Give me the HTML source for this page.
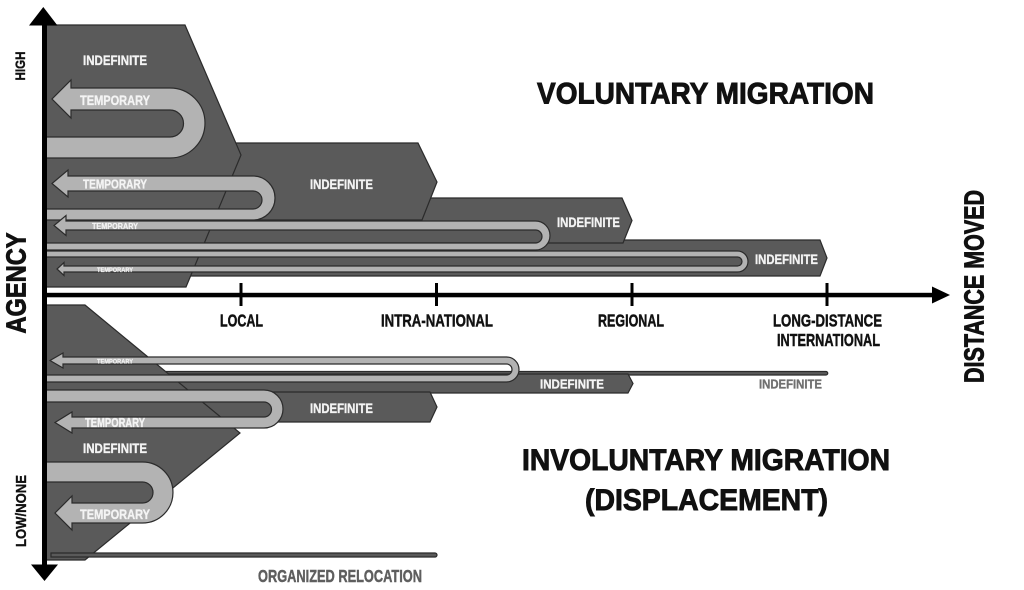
<!DOCTYPE html>
<html>
<head>
<meta charset="utf-8">
<style>
  html, body { margin:0; padding:0; background:#fff; }
  svg { display:block; }
  text { font-family: "Liberation Sans Narrow", "Liberation Sans", sans-serif; font-weight:bold; }
</style>
</head>
<body>
<svg width="1024" height="590" viewBox="0 0 1024 590" xmlns="http://www.w3.org/2000/svg">
  <rect x="0" y="0" width="1024" height="590" fill="#ffffff"/>

  <!-- ===== Upper (voluntary) bands ===== -->
  <g fill="#5a5a5a" stroke="#2b2b2b" stroke-width="1.2" stroke-linejoin="miter">
    <polygon points="100,240 820,240 827,258 820,276 100,276"/>
    <polygon points="100,198 622,198 632,220.5 623,243 100,243"/>
    <polygon points="100,143 418,143 437,182 422,220 100,220"/>
    <polygon points="46,25 185,25 241,155 186,287 46,287"/>
  </g>

  <!-- Upper arrows -->
  <g fill="#b3b3b3" stroke="#2b2b2b" stroke-width="1.2" stroke-linejoin="miter">
    <path d="M46,137 L170,137 A13.5 13.5 0 0 0 170,110 L71,110 L71,118 L52,99 L71,80 L71,88 L170,88 A35 35 0 0 1 170,158 L46,158 Z"/>
    <path d="M46,209 L253,209 A9 9 0 0 0 253,191 L68,191 L68,197 L52,183.5 L68,170 L68,176 L253,176 A22 22 0 0 1 253,220 L46,220 Z"/>
    <path d="M46,243 L535.5,243 A6.5 6.5 0 0 0 535.5,230 L66,230 L66,235.5 L54,225.5 L66,215.5 L66,221 L535.5,221 A14.5 14.5 0 0 1 535.5,250 L46,250 Z"/>
    <path d="M46,251 L737.5,251 A10.5 10.5 0 0 1 737.5,272 L64,272 L64,275.5 L57,269 L64,262.5 L64,266 L737.5,266 A4.5 4.5 0 0 0 737.5,257 L46,257 Z"/>
  </g>

  <!-- ===== Lower (involuntary) bands ===== -->
  <g fill="#5a5a5a" stroke="#2b2b2b" stroke-width="1.2" stroke-linejoin="miter">
    <path d="M100,371.5 L826,371.5 A1.75 1.75 0 0 1 826,375 L100,375 Z"/>
    <polygon points="100,374 628,374 633,383.5 628,393 100,393"/>
    <polygon points="100,392 430,392 437,407 430,422 100,422"/>
    <polygon points="46,305 85,305 240,433 85,560 46,560"/>
    <path d="M51,553 L435,553 A2 2 0 0 1 435,557 L51,557 Z"/>
  </g>

  <!-- Lower arrows -->
  <g fill="#b3b3b3" stroke="#2b2b2b" stroke-width="1.2" stroke-linejoin="miter">
    <path d="M46,375 L506.5,375 A5.5 5.5 0 0 0 506.5,364 L63,364 L63,368 L50,360.5 L63,353 L63,357 L506.5,357 A12.5 12.5 0 0 1 506.5,382 L46,382 Z"/>
    <path d="M46,390 L264,390 A19 19 0 0 1 264,428 L72,428 L72,433 L55,422.5 L72,412 L72,417 L264,417 A7.5 7.5 0 0 0 264,402 L46,402 Z"/>
    <path d="M46,462 L142.5,462 A30.5 30.5 0 0 1 142.5,523 L72,523 L72,530 L55,513 L72,496 L72,503 L142.5,503 A10.5 10.5 0 0 0 142.5,482 L46,482 Z"/>
  </g>

  <!-- ===== Axes ===== -->
  <g fill="#000">
    <rect x="42" y="20" width="5" height="550"/>
    <rect x="42" y="292.8" width="892" height="4.5"/>
    <polygon points="29,25.5 57.5,25.5 43.3,7"/>
    <polygon points="31,564.5 58,564.5 44.5,581"/>
    <polygon points="932,286.5 932,303.5 950,295"/>
    <rect x="239.5" y="283" width="3" height="23"/>
    <rect x="435" y="283" width="3" height="23"/>
    <rect x="630.5" y="283" width="3" height="23"/>
    <rect x="825.5" y="283" width="3" height="23"/>
  </g>

  <!-- ===== Band labels ===== -->
  <g fill="#f4f4f4" stroke="#f4f4f4" stroke-width="0.35">
    <text x="83" y="65" font-size="14" textLength="64" lengthAdjust="spacingAndGlyphs">INDEFINITE</text>
    <text x="310" y="189" font-size="14" textLength="63" lengthAdjust="spacingAndGlyphs">INDEFINITE</text>
    <text x="557" y="227" font-size="14" textLength="63" lengthAdjust="spacingAndGlyphs">INDEFINITE</text>
    <text x="755" y="264" font-size="14" textLength="63" lengthAdjust="spacingAndGlyphs">INDEFINITE</text>
    <text x="83" y="453" font-size="14" textLength="64" lengthAdjust="spacingAndGlyphs">INDEFINITE</text>
    <text x="310" y="413" font-size="14" textLength="63" lengthAdjust="spacingAndGlyphs">INDEFINITE</text>
    <text x="540" y="388.5" font-size="13" textLength="64" lengthAdjust="spacingAndGlyphs">INDEFINITE</text>

    <text x="80" y="105" font-size="14" textLength="70" lengthAdjust="spacingAndGlyphs">TEMPORARY</text>
    <text x="83" y="188.5" font-size="13" textLength="64" lengthAdjust="spacingAndGlyphs">TEMPORARY</text>
    <text x="92" y="229" font-size="8" textLength="46" lengthAdjust="spacingAndGlyphs" stroke-width="0.2">TEMPORARY</text>
    <text x="97" y="272" font-size="6" textLength="36" lengthAdjust="spacingAndGlyphs" stroke-width="0.15">TEMPORARY</text>
    <text x="97" y="363.5" font-size="6" textLength="36" lengthAdjust="spacingAndGlyphs" stroke-width="0.15">TEMPORARY</text>
    <text x="85" y="427" font-size="12.5" textLength="60" lengthAdjust="spacingAndGlyphs">TEMPORARY</text>
    <text x="80" y="519" font-size="14" textLength="70" lengthAdjust="spacingAndGlyphs">TEMPORARY</text>
  </g>
  <text x="759" y="388.5" font-size="13" fill="#707070" stroke="#707070" stroke-width="0.35" textLength="63" lengthAdjust="spacingAndGlyphs">INDEFINITE</text>
  <text x="258" y="582" font-size="17.5" fill="#5e5e5e" stroke="#5e5e5e" stroke-width="0.45" textLength="164" lengthAdjust="spacingAndGlyphs">ORGANIZED RELOCATION</text>

  <!-- ===== Axis labels ===== -->
  <g fill="#111" stroke="#111" stroke-width="0.45">
    <text x="220" y="326.5" font-size="17.5" textLength="43" lengthAdjust="spacingAndGlyphs">LOCAL</text>
    <text x="381" y="326.5" font-size="17.5" textLength="112" lengthAdjust="spacingAndGlyphs">INTRA-NATIONAL</text>
    <text x="598" y="326.5" font-size="17.5" textLength="66" lengthAdjust="spacingAndGlyphs">REGIONAL</text>
    <text x="773" y="326.5" font-size="17.5" textLength="109" lengthAdjust="spacingAndGlyphs">LONG-DISTANCE</text>
    <text x="777" y="346" font-size="17.5" textLength="103" lengthAdjust="spacingAndGlyphs">INTERNATIONAL</text>

    <text x="537" y="103.5" font-size="30" stroke-width="0.9" textLength="337" lengthAdjust="spacingAndGlyphs">VOLUNTARY MIGRATION</text>
    <text x="522" y="470" font-size="30" stroke-width="0.9" textLength="368" lengthAdjust="spacingAndGlyphs">INVOLUNTARY MIGRATION</text>
    <text x="585" y="510" font-size="30" stroke-width="0.9" textLength="243" lengthAdjust="spacingAndGlyphs">(DISPLACEMENT)</text>

    <text transform="translate(25.5,283) rotate(-90)" text-anchor="middle" font-size="28" stroke-width="0.9" textLength="101" lengthAdjust="spacingAndGlyphs">AGENCY</text>
    <text transform="translate(25,66) rotate(-90)" text-anchor="middle" font-size="14" stroke-width="0.35" textLength="29" lengthAdjust="spacingAndGlyphs">HIGH</text>
    <text transform="translate(26,511) rotate(-90)" text-anchor="middle" font-size="14.5" stroke-width="0.35" textLength="72" lengthAdjust="spacingAndGlyphs">LOW/NONE</text>
    <text transform="translate(983.5,286.5) rotate(-90)" text-anchor="middle" font-size="28" stroke-width="0.9" textLength="193" lengthAdjust="spacingAndGlyphs">DISTANCE MOVED</text>
  </g>
</svg>
</body>
</html>
